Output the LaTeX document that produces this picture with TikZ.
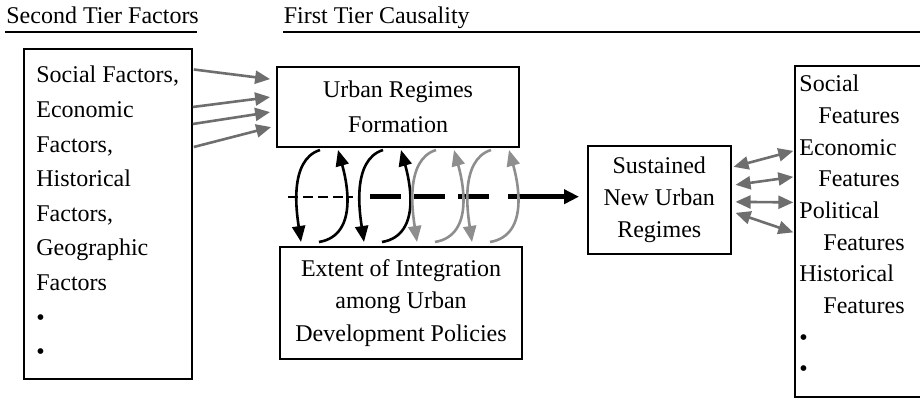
\documentclass[tikz,border=0pt]{standalone}
\usepackage{fontspec}
\setmainfont{Liberation Serif}
\usetikzlibrary{arrows.meta,calc}
\definecolor{linkgray}{HTML}{6E6E6E}
\definecolor{loopgray}{HTML}{8E8E8E}
\begin{document}
\begin{tikzpicture}[x=0.5pt,y=-0.5pt,
  every node/.style={font=\fontsize{12}{17.3}\selectfont},
  txt/.style={inner sep=0pt,anchor=base west},
  box/.style={draw,line width=0.9pt,inner sep=0pt,align=center},
  tightbox/.style={box,font=\fontsize{12}{16.2}\selectfont},
  rule/.style={line width=1pt},
  feed/.style={draw=linkgray,line width=1.3pt,
    -{Triangle[length=7.5pt,width=6.5pt,fill=linkgray]}},
  bothway/.style={draw=linkgray,line width=1.3pt,
    {Triangle[length=7.5pt,width=6.5pt,fill=linkgray]}-{Triangle[length=7.5pt,width=6.5pt,fill=linkgray]}},
  loopline/.style={line width=1.3pt,-{Triangle[length=8pt,width=6.5pt]}},
  pics/cycleloop/.style={code={
    \draw[loopline] (-2,-46) .. controls (-34,-36) and (-25,19) .. (-21,46);
    \draw[loopline] (-3,46) .. controls (39,39) and (23,-21) .. (16,-46);
  }}]
\useasboundingbox (0,0) rectangle (920,405);
\clip (0,0) rectangle (920,405);

% column headings
\node[txt] (hdrsecond) at (6,23.3) {Second Tier Factors};
\node[txt] (hdrfirst) at (283.5,23.3) {First Tier Causality};
\draw[rule] (5,32.3) -- (197,32.3);
\draw[rule] (283,32.3) -- (920,32.3);

% second tier factors
\node[box,minimum width=84pt,minimum height=165pt,anchor=north west] (factors) at (23,48) {};
\foreach \t [count=\i from 0] in {{Social Factors,},Economic,{Factors,},Historical,{Factors,},Geographic,Factors,•,•}
  \node[txt] (fac\i) at (36,83+34.6*\i) {\t};

% first tier boxes
\node[box,minimum width=121.3pt,minimum height=40pt] (urf) at (398,106.7) {Urban Regimes\\Formation};
\node[tightbox,minimum width=121pt,minimum height=56pt] (eiu) at (401,303) {Extent of Integration\\among Urban\\Development Policies};
\node[tightbox,minimum width=71.35pt,minimum height=54.15pt] (sust) at (659.3,199.85) {Sustained\\New Urban\\Regimes};

% features (box runs past the right edge)
\node[box,minimum width=70pt,minimum height=165.5pt,anchor=north west] (feats) at (794.3,65) {};
\foreach \t/\dx [count=\i from 0] in {Social/0,Features/19,Economic/0,Features/19,Political/0,Features/24,Historical/0,Features/24,•/0,•/0}
  \node[txt] (feat\i) at (799+\dx,91.7+31.7*\i) {\t};

% factors feeding regime formation
\draw[feed] ($(factors.north east)+(1,21.5)$) -- ($(urf.north west)+(-5.7,13.3)$);
\draw[feed] ($(factors.north east)+(0,59)$) -- ($(urf.north west)+(-5.7,31.3)$);
\draw[feed] ($(factors.north east)+(0,76)$) -- ($(urf.north west)+(-5.7,46.3)$);
\draw[feed] ($(factors.north east)+(1,99)$) -- ($(urf.north west)+(-4.7,61.3)$);

% progression towards sustained regimes
\coordinate (cycstart) at (288,196.7);
\coordinate (thinend) at (353,196.7);
\coordinate (thickstart) at (370,196.7);
\coordinate (thickend) at (489,196.7);
\coordinate (solidstart) at (508,196.7);
\draw[line width=1pt,dash pattern=on 5pt off 2.5pt] (cycstart) -- (thinend);
\draw[line width=2.5pt,dash pattern=on 15.5pt off 6.5pt] (thickstart) -- (thickend);
\draw[line width=2.5pt,-{Triangle[length=7.5pt,width=7pt]},shorten >=4pt] (solidstart) -- (sust.west |- cycstart);

% feedback loops between formation and integration
\pic[color=black] at (322,196) {cycleloop};
\pic[color=black] at (385,196) {cycleloop};
\pic[color=loopgray] at (438,196) {cycleloop};
\pic[color=loopgray] at (493,196) {cycleloop};

% two-way links with the features
\draw[bothway] ($(sust.east)+(2,-33)$) -- ($(feats.west)+(-1,-80.5)$);
\draw[bothway] ($(sust.east)+(4,-15)$) -- ($(feats.west)+(-1,-54.5)$);
\draw[bothway] ($(sust.east)+(4,2)$) -- ($(feats.west)+(-1,-29)$);
\draw[bothway] ($(sust.east)+(4,13)$) -- ($(feats.west)+(-1,1)$);
\end{tikzpicture}
\end{document}
